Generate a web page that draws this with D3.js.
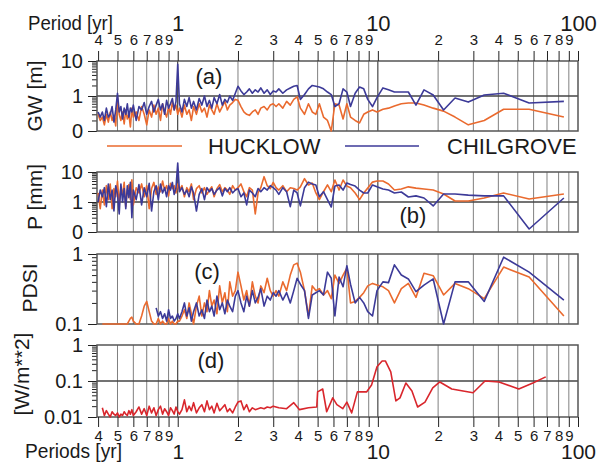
<!DOCTYPE html>
<meta charset="utf-8">
<script src="https://cdn.jsdelivr.net/npm/d3@7"></script>
<style>
body { margin: 0; background: #fff; }
text { font-family: "Liberation Sans", Arial, sans-serif; fill: #1a1a1a; }
.frame { fill: none; stroke: #555; stroke-width: 1.5px; }
.vgrid { stroke: #808080; stroke-width: 1px; }
.vgrid.decade { stroke: #222; }
.hgrid { stroke: #444; stroke-width: 1.3px; }
.series { fill: none; stroke-width: 1.6px; stroke-linejoin: round; }
.tick line { stroke: #222; }
</style>
<body>
<script>

// periods [yr] of the spectral estimates (short periods, shared by all panels)
var periodsDense = [
  0.40,0.41,0.42,0.43,0.44,0.45,0.46,0.47,0.48,0.49,
  0.50,0.51,0.52,0.53,0.54,0.55,0.56,0.57,0.58,0.59,
  0.60,0.62,0.64,0.66,0.68,0.70,0.72,0.74,0.76,0.78,
  0.80,0.82,0.84,0.86,0.88,0.90,0.92,0.94,0.96,0.98,
  1.00,1.02,1.05,1.08,1.11,1.14,1.17,1.20,1.24,1.28,
  1.32,1.36,1.40,1.44,1.48,1.52,1.57,1.62,1.67,1.72,
  1.77,1.82,1.88,1.94,2.00,2.07,2.14,2.21,2.28,2.36,
  2.44,2.52,2.60,2.70,2.80,2.90,3.00];

// long periods for panels (a)-(c)
var periodsLong = [
  3.10,3.20,3.35,3.50,3.65,3.80,3.95,4.10,4.30,4.50,
  4.70,4.90,5.10,5.35,5.60,5.85,6.10,6.40,6.70,7.00,
  7.30,7.70,8.10,8.50,8.90,9.40,9.90,10.6,11.3,12.1,
  13.1,14.2,15.5,17.0,18.9,21.3,24.3,28.3,34.0,42.5,
  57.0,85.0];

// long periods for panel (d)
var solarTailPeriods = [
  3.2,3.5,3.8,4.06,4.5,4.95,5.0,5.3,5.55,5.95,
  6.24,6.68,7.0,7.4,7.9,8.8,9.3,9.9,10.5,10.9,
  11.6,12.3,12.9,13.8,14.8,15.8,17.2,18.8,20.4,23.4,
  29.9,34.3,40.3,50.6,59.5,69];

// (a) groundwater amplitude [m]
var gwHucklow = [
  0.30,0.20,0.25,0.15,0.30,0.18,0.35,0.20,0.28,0.14,
  0.90,0.30,0.20,0.35,0.16,0.40,0.22,0.30,0.13,0.45,
  0.25,0.35,0.20,0.50,0.30,0.15,0.40,0.25,0.55,0.30,
  0.45,0.20,0.60,0.35,0.25,0.50,0.30,0.65,0.40,0.55,
  0.30,0.45,0.25,0.55,0.30,0.40,0.20,0.50,0.30,0.60,
  0.35,0.45,0.25,0.55,0.40,0.30,0.60,0.35,0.50,0.70,
  0.40,0.55,0.65,0.80,0.75,0.50,0.35,0.30,0.28,0.35,
  0.40,0.30,0.45,0.50,0.40,0.55,0.60,
  0.50,0.60,0.45,0.70,0.55,0.80,0.95,0.45,0.30,0.60,
  0.35,0.30,0.60,0.25,0.20,0.10,0.60,0.55,0.22,0.60,
  0.25,0.20,0.17,0.30,0.35,0.40,0.35,0.42,0.45,0.52,
  0.60,0.63,0.63,0.55,0.45,0.37,0.25,0.15,0.20,0.42,
  0.42,0.25];
var gwChilgrove = [
  0.35,0.25,0.35,0.20,0.45,0.25,0.30,0.50,0.18,0.40,
  1.20,0.35,0.50,0.22,0.45,0.30,0.60,0.25,0.45,0.35,
  0.55,0.20,0.50,0.40,0.65,0.30,0.50,0.70,0.35,0.55,
  0.80,0.40,0.60,0.30,0.75,0.45,0.60,0.85,0.40,0.70,
  8.00,0.60,0.35,0.80,0.50,0.90,0.45,0.70,0.40,0.85,
  0.55,1.00,0.50,0.75,0.45,0.90,0.60,1.10,0.55,0.80,
  0.65,1.00,0.75,1.20,1.90,1.40,1.10,1.30,1.60,1.20,
  1.50,1.30,1.70,1.20,1.50,1.10,1.40,
  1.30,1.60,1.20,1.50,1.70,1.90,2.00,0.80,1.10,1.60,
  2.00,1.90,1.80,1.60,1.30,1.10,0.50,0.60,1.60,1.30,
  0.50,1.20,1.80,1.60,0.80,0.50,0.90,1.70,1.50,1.30,
  1.30,1.30,0.55,1.50,1.07,0.40,0.88,0.67,1.07,1.20,
  0.63,0.70];

// (b) precipitation amplitude [mm]
var pHucklow = [
  2.0,0.6,2.5,0.8,3.5,1.2,4.0,0.6,2.8,1.5,
  5.0,0.9,3.0,1.8,4.5,0.7,2.5,3.8,1.2,5.5,
  0.8,3.0,2.0,4.0,1.5,3.5,0.6,2.8,4.5,1.8,
  3.2,2.2,5.0,2.5,3.5,1.6,4.2,2.8,3.5,2.0,
  4.0,2.5,3.5,1.5,3.0,2.2,4.0,1.2,2.8,3.5,
  2.0,3.0,1.8,2.5,3.2,1.5,2.8,3.8,2.2,3.0,
  2.5,1.8,3.5,2.5,3.0,4.0,2.2,1.5,3.0,2.5,
  0.4,2.0,3.0,7.0,3.5,2.8,4.5,
  3.0,2.5,3.5,2.2,3.0,2.8,2.5,3.2,6.0,3.7,
  4.3,2.0,1.2,2.2,3.7,2.2,5.4,2.5,5.4,3.4,
  3.0,2.0,1.2,2.0,2.9,4.6,5.0,5.0,4.0,2.5,
  2.7,3.2,2.9,2.7,2.5,1.85,1.08,1.08,1.36,2.0,
  1.26,1.85];
var pChilgrove = [
  1.0,2.5,1.5,3.0,0.7,4.0,1.2,2.5,0.5,3.5,
  1.8,0.4,4.0,1.0,2.8,0.6,3.5,1.4,4.5,0.3,
  2.5,1.2,3.8,0.8,3.0,1.5,4.2,0.5,2.2,3.5,
  1.2,4.0,2.0,3.0,1.5,3.5,2.5,4.5,1.8,3.0,
  20,2.2,3.0,1.8,2.5,1.5,3.2,2.0,0.5,1.8,
  2.8,1.2,3.0,2.2,2.8,1.8,2.5,3.0,1.6,2.8,
  2.2,3.0,2.0,2.5,2.8,1.5,2.0,0.8,2.5,2.0,
  1.5,2.8,2.2,3.0,2.5,3.5,3.0,
  2.5,1.8,3.0,2.2,0.7,2.5,2.0,0.74,3.0,4.6,
  4.0,3.7,1.5,2.2,1.2,0.68,3.4,3.7,2.5,4.3,
  3.8,3.4,2.5,2.0,2.0,3.7,3.2,2.7,2.5,2.0,
  2.15,1.47,1.6,1.36,0.74,1.85,1.85,1.7,1.6,1.6,
  0.126,1.36];

// (c) PDSI amplitude
var pdsiHucklow = [
  null,null,0.10,0.10,0.10,0.10,0.10,0.10,0.10,0.10,
  0.10,0.10,0.10,0.10,0.10,0.10,0.10,0.11,0.12,0.125,
  0.11,0.10,0.10,0.13,0.18,0.21,0.15,0.11,0.10,0.10,
  0.12,0.10,0.11,0.10,0.10,0.12,0.10,0.11,0.10,0.10,
  0.11,0.11,0.13,0.16,0.12,0.20,0.14,0.10,0.18,0.25,
  0.13,0.20,0.15,0.30,0.18,0.22,0.14,0.35,0.20,0.28,
  0.15,0.40,0.25,0.30,0.55,0.35,0.22,0.30,0.18,0.40,
  0.25,0.20,0.35,0.28,0.45,0.30,0.25,
  0.30,0.25,0.40,0.30,0.50,0.70,0.74,0.55,0.30,0.13,
  0.35,0.30,0.32,0.26,0.30,0.23,0.50,0.38,0.50,0.63,
  0.20,0.21,0.24,0.28,0.35,0.38,0.36,0.34,0.30,0.20,
  0.32,0.38,0.24,0.53,0.49,0.26,0.38,0.32,0.23,0.65,
  0.47,0.13];
var pdsiChilgrove = [
  null,null,null,null,null,null,null,null,null,null,
  null,null,null,null,null,null,null,null,null,null,
  null,null,null,null,null,null,null,null,null,0.17,
  0.13,0.15,0.12,0.14,0.11,0.16,0.12,0.13,0.11,0.12,
  0.14,0.12,0.15,0.20,0.13,0.17,0.11,0.15,0.20,0.13,
  0.16,0.12,0.22,0.15,0.18,0.13,0.25,0.16,0.20,0.14,
  0.22,0.18,0.15,0.25,0.30,0.20,0.15,0.25,0.18,0.30,
  0.20,0.24,0.32,0.18,0.25,0.22,0.28,
  0.25,0.30,0.22,0.28,0.20,0.30,0.45,0.37,0.30,0.12,
  0.26,0.28,0.30,0.26,0.55,0.45,0.13,0.47,0.34,0.68,
  0.37,0.20,0.24,0.20,0.15,0.13,0.30,0.40,0.39,0.70,
  0.50,0.44,0.29,0.36,0.44,0.10,0.40,0.40,0.21,0.90,
  0.55,0.22];

// (d) solar irradiance amplitude [W/m**2]
var solarDense = [
  null,null,0.018,0.011,0.015,0.012,0.010,0.014,0.012,0.011,
  0.013,0.010,0.012,0.011,0.014,0.012,0.011,0.015,0.012,0.016,
  0.011,0.014,0.019,0.012,0.017,0.011,0.020,0.013,0.018,0.011,
  0.016,0.020,0.012,0.017,0.014,0.011,0.018,0.015,0.012,0.019,
  0.014,0.012,0.016,0.030,0.014,0.020,0.015,0.025,0.013,0.018,
  0.022,0.014,0.028,0.016,0.020,0.013,0.024,0.015,0.018,0.022,
  0.014,0.017,0.013,0.019,0.026,0.028,0.016,0.022,0.014,0.018,
  0.016,0.017,0.018,0.017,0.019,0.018,0.020];
var solarTail = [
  0.018,0.017,0.025,0.016,0.018,0.019,0.05,0.06,0.014,0.034,
  0.022,0.017,0.026,0.013,0.05,0.05,0.077,0.25,0.36,0.36,
  0.18,0.028,0.034,0.088,0.053,0.019,0.026,0.064,0.094,0.06,
  0.047,0.1,0.094,0.06,0.088,0.13];

var seriesNames = ["HUCKLOW", "CHILGROVE"];
var gridTicks = [0.4,0.5,0.6,0.7,0.8,0.9,1,2,3,4,5,6,7,8,9,10,20,30,40,50,60,70,80,90,100];
var decadeTicks = [1, 10, 100];

var orange = "#ea6a2e", blue = "#3c3a98", red = "#d9262c";

var periodsMain = periodsDense.concat(periodsLong);
var periodsSolar = periodsDense.concat(solarTailPeriods);
var solar = solarDense.concat(solarTail);

[gwHucklow, gwChilgrove, pHucklow, pChilgrove, pdsiHucklow, pdsiChilgrove].forEach(function(a, i) {
  if (a.length != periodsMain.length) throw new Error("series " + i + " has " + a.length + " values, expected " + periodsMain.length);
});
if (solar.length != periodsSolar.length) throw new Error("solar length " + solar.length);

var width = 602, height = 464;
var left = 97, right = 578;

var svg = d3.select("body").append("svg")
    .attr("width", width)
    .attr("height", height);

var x = d3.scaleLog().domain([0.395, 100]).range([left, right]);

var panels = [
  {top: 61, bottom: 131, domain: [0.1, 10], major: [0.1, 1, 10], fmt: {"0.1": "0", "1": "1", "10": "10"}, hline: [1],
   title: "GW [m]", titleX: 42, titleY: 96, tag: "(a)", tagX: 209, tagY: 84,
   series: [{p: periodsMain, v: gwHucklow, c: orange}, {p: periodsMain, v: gwChilgrove, c: blue}]},
  {top: 172, bottom: 232, domain: [0.1, 10], major: [0.1, 1, 10], fmt: {"0.1": "0", "1": "1", "10": "10"}, hline: [1],
   title: "P [mm]", titleX: 42, titleY: 197, tag: "(b)", tagX: 413, tagY: 223,
   series: [{p: periodsMain, v: pHucklow, c: orange}, {p: periodsMain, v: pChilgrove, c: blue}]},
  {top: 254, bottom: 324, domain: [0.1, 1], major: [0.1, 1], fmt: {"0.1": "0.1", "1": "1"}, hline: [],
   title: "PDSI", titleX: 37, titleY: 288, tag: "(c)", tagX: 207, tagY: 279,
   series: [{p: periodsMain, v: pdsiHucklow, c: orange}, {p: periodsMain, v: pdsiChilgrove, c: blue}]},
  {top: 345, bottom: 417, domain: [0.01, 1], major: [0.01, 0.1, 1], fmt: {"0.01": "0.01", "0.1": "0.1", "1": "1"}, hline: [0.1],
   title: "[W/m**2]", titleX: 29, titleY: 374, tag: "(d)", tagX: 211, tagY: 368,
   series: [{p: periodsSolar, v: solar, c: red}]}
];

panels.forEach(function(pn) {
  var y = d3.scaleLog().domain(pn.domain).range([pn.bottom, pn.top]);
  var g = svg.append("g");

  // vertical grid
  g.selectAll("line.vgrid")
      .data(gridTicks.filter(function(t) { return t > 0.4 && t < 100; }))
      .enter().append("line")
      .attr("class", function(d) { return decadeTicks.indexOf(d) >= 0 ? "vgrid decade" : "vgrid"; })
      .attr("x1", function(d) { return x(d); })
      .attr("x2", function(d) { return x(d); })
      .attr("y1", pn.top)
      .attr("y2", pn.bottom);

  g.selectAll("line.hgrid")
      .data(pn.hline)
      .enter().append("line")
      .attr("class", "hgrid")
      .attr("x1", left).attr("x2", right)
      .attr("y1", function(d) { return y(d); })
      .attr("y2", function(d) { return y(d); });

  // y axis: minor and major ticks
  var minor = g.append("g").attr("transform", "translate(" + left + ",0)")
      .call(d3.axisLeft(y).tickValues(y.ticks()).tickSize(5).tickFormat(""));
  minor.select(".domain").remove();

  var major = g.append("g").attr("transform", "translate(" + left + ",0)")
      .call(d3.axisLeft(y).tickValues(pn.major).tickSize(9).tickPadding(5)
        .tickFormat(function(d) { return pn.fmt[String(d)]; }));
  major.select(".domain").remove();
  major.selectAll("text").style("font-size", "20px").attr("fill", "#1a1a1a");

  g.append("rect")
      .attr("class", "frame")
      .attr("x", left).attr("y", pn.top)
      .attr("width", right - left).attr("height", pn.bottom - pn.top);

  var line = d3.line()
      .defined(function(d) { return d.v != null; })
      .x(function(d) { return x(d.p); })
      .y(function(d) { return y(d.v); });

  pn.series.forEach(function(s) {
    var pts = s.v.map(function(v, i) { return {p: s.p[i], v: v}; });
    g.append("path")
        .datum(pts)
        .attr("class", "series")
        .attr("stroke", s.c)
        .attr("d", line);
  });

  g.append("text")
      .attr("transform", "translate(" + pn.titleX + "," + pn.titleY + ") rotate(-90)")
      .attr("text-anchor", "middle")
      .style("font-size", "21px")
      .text(pn.title);

  g.append("text")
      .attr("x", pn.tagX).attr("y", pn.tagY)
      .attr("text-anchor", "middle")
      .style("font-size", "22px")
      .text(pn.tag);
});

// top and bottom period axes
function digit(d) {
  if (decadeTicks.indexOf(d) >= 0) return "";
  return String(Math.round(d / Math.pow(10, Math.floor(Math.log10(d) + 1e-9))));
}

var topMinor = svg.append("g").attr("transform", "translate(0,61)")
    .call(d3.axisTop(x).tickValues(gridTicks).tickSize(10).tickPadding(6).tickFormat(digit));
var topMajor = svg.append("g").attr("transform", "translate(0,61)")
    .call(d3.axisTop(x).tickValues(decadeTicks).tickSize(0).tickPadding(30).tickFormat(d3.format("d")));
var botMinor = svg.append("g").attr("transform", "translate(0,417)")
    .call(d3.axisBottom(x).tickValues(gridTicks).tickSize(10).tickPadding(3).tickFormat(digit));
var botMajor = svg.append("g").attr("transform", "translate(0,417)")
    .call(d3.axisBottom(x).tickValues(decadeTicks).tickSize(0).tickPadding(27).tickFormat(d3.format("d")));

[topMinor, topMajor, botMinor, botMajor].forEach(function(ax) {
  ax.select(".domain").remove();
  ax.selectAll("text").attr("fill", "#1a1a1a");
});
topMinor.selectAll("text").style("font-size", "15px");
botMinor.selectAll("text").style("font-size", "15px");
topMajor.selectAll("text").style("font-size", "22px");
botMajor.selectAll("text").style("font-size", "21px");

svg.append("text")
    .attr("x", 28).attr("y", 30)
    .attr("textLength", 85).attr("lengthAdjust", "spacingAndGlyphs")
    .style("font-size", "21px")
    .text("Period [yr]");

svg.append("text")
    .attr("x", 25).attr("y", 458)
    .attr("textLength", 97).attr("lengthAdjust", "spacingAndGlyphs")
    .style("font-size", "21px")
    .text("Periods [yr]");

// legend
var legend = [
  {name: seriesNames[0], c: orange, x1: 107, x2: 182, tx: 208},
  {name: seriesNames[1], c: blue, x1: 345, x2: 419, tx: 447}
];
var lg = svg.append("g").selectAll("g").data(legend).enter().append("g");
lg.append("line")
    .attr("x1", function(d) { return d.x1; })
    .attr("x2", function(d) { return d.x2; })
    .attr("y1", 146).attr("y2", 146)
    .attr("stroke", function(d) { return d.c; })
    .attr("stroke-width", 1.6);
lg.append("text")
    .attr("x", function(d) { return d.tx; })
    .attr("y", 154)
    .style("font-size", "22px")
    .text(function(d) { return d.name; });

</script>
</body>
